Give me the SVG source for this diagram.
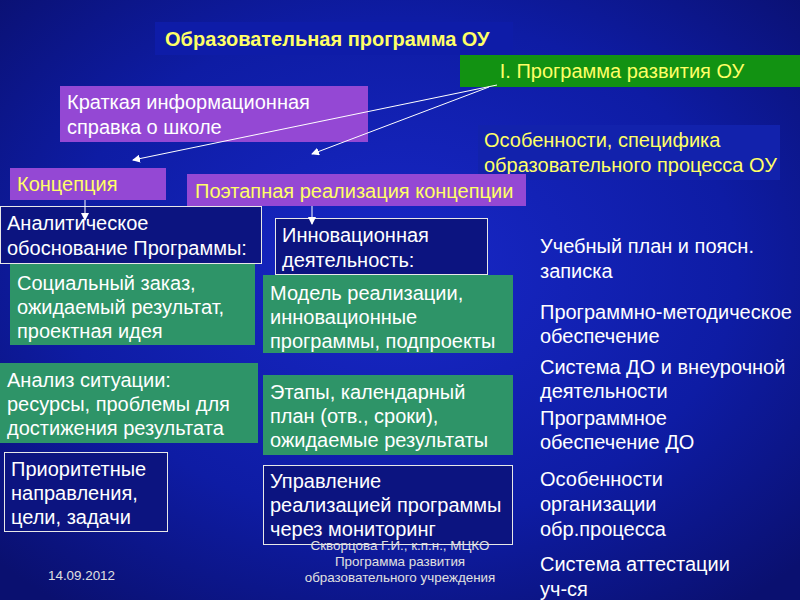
<svg xmlns="http://www.w3.org/2000/svg" width="800" height="600" viewBox="0 0 800 600">
<defs>
<radialGradient id="bg" cx="0.5" cy="0.45" r="0.7">
<stop offset="0" stop-color="#1828c8"/><stop offset="0.6" stop-color="#0e1ca4"/><stop offset="1" stop-color="#0a1070"/>
</radialGradient>
<marker id="ah" markerWidth="8" markerHeight="8" refX="7" refY="4" orient="auto" markerUnits="userSpaceOnUse"><path d="M0,0 L8,4 L0,8 Z" fill="#fff"/></marker>
<style>
text{font-family:"Liberation Sans",Arial,sans-serif;font-size:20px;fill:#fff}
.y{fill:#ffff66}
.pu{fill:#9448d4}
.gr{fill:#2e9468}
.dk{fill:#0c1480;stroke:#e8e8e8;stroke-width:1}
.ft{font-size:13.4px;fill:#e0e0e0}
</style>
</defs>
<rect width="800" height="600" fill="url(#bg)"/>
<g id="title"><rect x="155" y="22" width="358" height="33" fill="#0e1ca8"/><text class="y" x="165" y="46" font-weight="bold" font-size="18.5">Образовательная программа ОУ</text></g>
<g id="prog"><rect x="460" y="55" width="340" height="32" fill="#129212"/><text class="y" x="622" y="78" text-anchor="middle">I. Программа развития ОУ</text></g>
<g id="info"><rect class="pu" x="60" y="86" width="308" height="56"/><text x="67" y="109">Краткая информационная</text><text x="67" y="134">справка о школе</text></g>
<g id="osob"><rect x="478" y="125" width="302" height="55" fill="#1222ac"/><text class="y" x="484" y="147">Особенности, специфика</text><text class="y" x="484" y="172">образовательного процесса ОУ</text></g>
<g id="konc"><rect class="pu" x="10" y="168" width="156" height="32"/><text class="y" x="17" y="191">Концепция</text></g>
<g id="poet"><rect class="pu" x="187" y="174" width="339" height="32"/><text class="y" x="195" y="198">Поэтапная реализация концепции</text></g>
<g id="anal"><rect class="dk" x="0.5" y="206.5" width="261" height="57"/><text x="7" y="230">Аналитическое</text><text x="7" y="255">обоснование Программы:</text></g>
<g id="innov"><rect class="dk" x="275.5" y="218.5" width="212" height="56"/><text x="282" y="242">Инновационная</text><text x="282" y="267">деятельность:</text></g>
<g id="soc"><rect class="gr" x="10" y="264" width="245" height="81"/><text x="17" y="290">Социальный заказ,</text><text x="17" y="314">ожидаемый результат,</text><text x="17" y="338">проектная идея</text></g>
<g id="model"><rect class="gr" x="263" y="275" width="250" height="78"/><text x="270" y="300">Модель реализации,</text><text x="270" y="324">инновационные</text><text x="270" y="348">программы, подпроекты</text></g>
<g id="analiz"><rect class="gr" x="0" y="363" width="258" height="80"/><text x="7" y="387">Анализ ситуации:</text><text x="7" y="411">ресурсы, проблемы для</text><text x="7" y="435">достижения результата</text></g>
<g id="etap"><rect class="gr" x="263" y="375" width="250" height="80"/><text x="270" y="399">Этапы, календарный</text><text x="270" y="423">план (отв., сроки),</text><text x="270" y="447">ожидаемые результаты</text></g>
<g id="prior"><rect class="dk" x="4.5" y="452.5" width="163" height="79"/><text x="11" y="476">Приоритетные</text><text x="11" y="500">направления,</text><text x="11" y="524">цели, задачи</text></g>
<g id="upr"><rect class="dk" x="263.5" y="465.5" width="249" height="79"/><text x="270" y="488">Управление</text><text x="270" y="512">реализацией программы</text><text x="270" y="536">через мониторинг</text></g>
<g id="right">
<text x="540" y="253">Учебный план и поясн.</text><text x="540" y="278">записка</text>
<text x="540" y="319">Программно-методическое</text><text x="540" y="343">обеспечение</text>
<text x="540" y="374">Система ДО и внеурочной</text><text x="540" y="398">деятельности</text>
<text x="540" y="425">Программное</text><text x="540" y="449">обеспечение ДО</text>
<text x="540" y="486">Особенности</text><text x="540" y="511">организации</text><text x="540" y="536">обр.процесса</text>
<text x="540" y="571">Система аттестации</text><text x="540" y="596">уч-ся</text>
</g>
<g id="footer">
<text class="ft" x="48" y="580" font-size="14.5">14.09.2012</text>
<text class="ft" x="400" y="550" text-anchor="middle">Скворцова Г.И., к.п.н., МЦКО</text>
<text class="ft" x="400" y="566" text-anchor="middle">Программа развития</text>
<text class="ft" x="400" y="582" text-anchor="middle">образовательного учреждения</text>
</g>
<g id="connectors" stroke="#fff" stroke-width="1" fill="none" marker-end="url(#ah)">
<line x1="497" y1="85" x2="133" y2="160"/>
<line x1="489" y1="87" x2="312" y2="154"/>
<line x1="85" y1="200" x2="85" y2="220"/>
<line x1="312" y1="206" x2="312" y2="224"/>
</g>
</svg>
